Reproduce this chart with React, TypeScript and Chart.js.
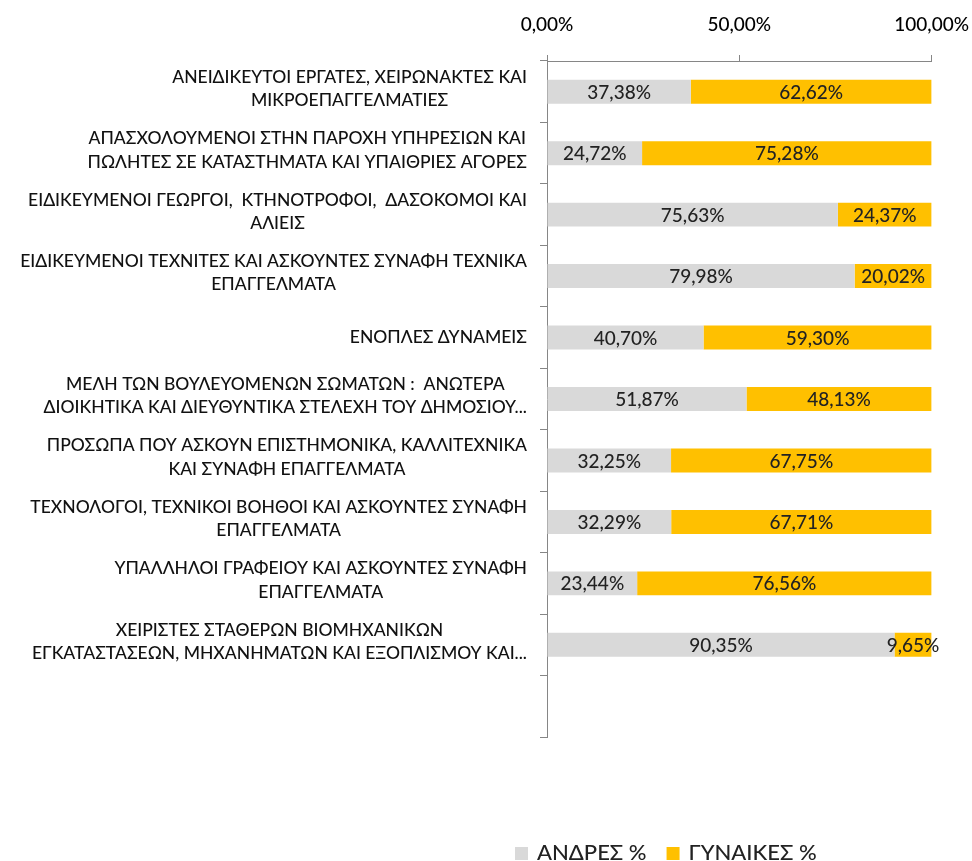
import React, { useEffect, useRef } from 'react';
import { Chart, registerables } from 'chart.js';

Chart.register(...registerables);

const FONT = "Lato, 'Noto Sans', sans-serif";
const WEIGHT = '500';

const categories: string[][] = [
  ['ΑΝΕΙΔΙΚΕΥΤΟΙ ΕΡΓΑΤΕΣ, ΧΕΙΡΩΝΑΚΤΕΣ ΚΑΙ', 'ΜΙΚΡΟΕΠΑΓΓΕΛΜΑΤΙΕΣ'],
  ['ΑΠΑΣΧΟΛΟΥΜΕΝΟΙ ΣΤΗΝ ΠΑΡΟΧΗ ΥΠΗΡΕΣΙΩΝ ΚΑΙ', 'ΠΩΛΗΤΕΣ ΣΕ ΚΑΤΑΣΤΗΜΑΤΑ ΚΑΙ ΥΠΑΙΘΡΙΕΣ ΑΓΟΡΕΣ'],
  ['ΕΙΔΙΚΕΥΜΕΝΟΙ ΓΕΩΡΓΟΙ,  ΚΤΗΝΟΤΡΟΦΟΙ,  ΔΑΣΟΚΟΜΟΙ ΚΑΙ', 'ΑΛΙΕΙΣ'],
  ['ΕΙΔΙΚΕΥΜΕΝΟΙ ΤΕΧΝΙΤΕΣ ΚΑΙ ΑΣΚΟΥΝΤΕΣ ΣΥΝΑΦΗ ΤΕΧΝΙΚΑ', 'ΕΠΑΓΓΕΛΜΑΤΑ'],
  ['ΕΝΟΠΛΕΣ ΔΥΝΑΜΕΙΣ'],
  ['ΜΕΛΗ ΤΩΝ ΒΟΥΛΕΥΟΜΕΝΩΝ ΣΩΜΑΤΩΝ :  ΑΝΩΤΕΡΑ', 'ΔΙΟΙΚΗΤΙΚΑ ΚΑΙ ΔΙΕΥΘΥΝΤΙΚΑ ΣΤΕΛΕΧΗ ΤΟΥ ΔΗΜΟΣΙΟΥ...'],
  ['ΠΡΟΣΩΠΑ ΠΟΥ ΑΣΚΟΥΝ ΕΠΙΣΤΗΜΟΝΙΚΑ, ΚΑΛΛΙΤΕΧΝΙΚΑ', 'ΚΑΙ ΣΥΝΑΦΗ ΕΠΑΓΓΕΛΜΑΤΑ'],
  ['ΤΕΧΝΟΛΟΓΟΙ, ΤΕΧΝΙΚΟΙ ΒΟΗΘΟΙ ΚΑΙ ΑΣΚΟΥΝΤΕΣ ΣΥΝΑΦΗ', 'ΕΠΑΓΓΕΛΜΑΤΑ'],
  ['ΥΠΑΛΛΗΛΟΙ ΓΡΑΦΕΙΟΥ ΚΑΙ ΑΣΚΟΥΝΤΕΣ ΣΥΝΑΦΗ', 'ΕΠΑΓΓΕΛΜΑΤΑ'],
  ['ΧΕΙΡΙΣΤΕΣ ΣΤΑΘΕΡΩΝ ΒΙΟΜΗΧΑΝΙΚΩΝ', 'ΕΓΚΑΤΑΣΤΑΣΕΩΝ, ΜΗΧΑΝΗΜΑΤΩΝ ΚΑΙ ΕΞΟΠΛΙΣΜΟΥ ΚΑΙ...'],
  [],
];

const menValues: (number | null)[] = [37.38, 24.72, 75.63, 79.98, 40.7, 51.87, 32.25, 32.29, 23.44, 90.35, null];
const womenValues: (number | null)[] = [62.62, 75.28, 24.37, 20.02, 59.3, 48.13, 67.75, 67.71, 76.56, 9.65, null];
const seriesNames = ['ΑΝΔΡΕΣ %', 'ΓΥΝΑΙΚΕΣ %'];
const seriesColors = ['#D9D9D9', '#FFC000'];
const xMin = 0;
const xMax = 100;
const xStep = 50;

const AXIS_COLOR = '#868686';
const X_AXIS_HEIGHT = 61;
const Y_AXIS_WIDTH = 547;
const Y_TICK_LEN = 7;
const Y_LABEL_PAD = 13;
const CAT_FONT_SIZE = 17.5;
const CAT_LINE_H = 23.5;

const fmt = (v: number) => v.toFixed(2).replace('.', ',') + '%';

const yLabelPlugin = {
  id: 'yLabels',
  afterDraw(chart: any) {
    const y = chart.scales.y;
    const ctx = chart.ctx;
    ctx.save();
    ctx.font = `${WEIGHT} ${CAT_FONT_SIZE}px ${FONT}`;
    ctx.fillStyle = '#111';
    ctx.textAlign = 'center';
    ctx.textBaseline = 'middle';
    const rightEdge = y.right - Y_TICK_LEN - Y_LABEL_PAD;
    categories.forEach((lines, i) => {
      if (!lines.length) return;
      const cy = y.getPixelForValue(i);
      const w = Math.max(...lines.map((l) => ctx.measureText(l).width));
      const cx = rightEdge - w / 2;
      const n = lines.length;
      const shift = n > 1 ? -3 : 0;
      lines.forEach((l, j) => {
        ctx.fillText(l, cx, cy + (j - (n - 1) / 2) * CAT_LINE_H + shift);
      });
    });
    ctx.restore();
  },
};

const dataLabelPlugin = {
  id: 'dataLabels',
  afterDatasetsDraw(chart: any) {
    const ctx = chart.ctx;
    ctx.save();
    ctx.font = `${WEIGHT} 19px ${FONT}`;
    ctx.fillStyle = '#222';
    ctx.textAlign = 'center';
    ctx.textBaseline = 'middle';
    chart.data.datasets.forEach((ds: any, di: number) => {
      const meta = chart.getDatasetMeta(di);
      meta.data.forEach((el: any, i: number) => {
        const v = ds.data[i];
        if (v === null || v === undefined) return;
        const p = el.getCenterPoint();
        ctx.fillText(fmt(v), p.x, p.y + 1);
      });
    });
    ctx.restore();
  },
};

const legendPlugin = {
  id: 'customLegend',
  afterDraw(chart: any) {
    const ctx = chart.ctx;
    const area = chart.chartArea;
    ctx.save();
    ctx.font = `${WEIGHT} 22px ${FONT}`;
    ctx.textBaseline = 'alphabetic';
    ctx.textAlign = 'left';
    const box = 13;
    const gap = 9;
    const itemGap = 20;
    let x = area.left - 32;
    const baseline = chart.height - 1;
    seriesNames.forEach((name, i) => {
      ctx.fillStyle = seriesColors[i];
      ctx.fillRect(x, baseline - box, box, box);
      x += box + gap;
      ctx.fillStyle = '#222';
      ctx.fillText(name, x, baseline);
      x += ctx.measureText(name).width + itemGap;
    });
    ctx.restore();
  },
};

export default function App() {
  const ref = useRef<HTMLCanvasElement | null>(null);
  useEffect(() => {
    if (!ref.current) return;
    const chart = new Chart(ref.current, {
      type: 'bar',
      data: {
        labels: categories.map((c) => c.join(' ')),
        datasets: [
          {
            label: seriesNames[0],
            data: menValues,
            backgroundColor: seriesColors[0],
            categoryPercentage: 1,
            barPercentage: 0.39,
          },
          {
            label: seriesNames[1],
            data: womenValues,
            backgroundColor: seriesColors[1],
            categoryPercentage: 1,
            barPercentage: 0.39,
          },
        ],
      },
      options: {
        indexAxis: 'y',
        animation: false,
        responsive: true,
        maintainAspectRatio: false,
        layout: { padding: { top: 0, right: 40, bottom: 124, left: 0 } },
        plugins: {
          legend: { display: false },
          tooltip: { enabled: false },
        },
        scales: {
          x: {
            position: 'top',
            stacked: true,
            min: xMin,
            max: xMax,
            ticks: {
              stepSize: xStep,
              callback: (v: any) => fmt(Number(v)),
              font: { family: FONT, size: 19, weight: WEIGHT, lineHeight: 2.842 },
              color: '#000',
              padding: 3,
              maxRotation: 0,
            },
            grid: {
              drawOnChartArea: false,
              drawTicks: true,
              tickLength: 6,
              color: AXIS_COLOR,
            },
            border: { display: true, color: AXIS_COLOR },
            afterFit: (s: any) => {
              s.height = X_AXIS_HEIGHT;
            },
          },
          y: {
            stacked: true,
            ticks: { display: false },
            grid: {
              offset: true,
              drawOnChartArea: false,
              drawTicks: true,
              tickLength: Y_TICK_LEN,
              color: AXIS_COLOR,
            },
            border: { display: true, color: AXIS_COLOR },
            afterFit: (s: any) => {
              s.width = Y_AXIS_WIDTH;
            },
          },
        },
      } as any,
      plugins: [yLabelPlugin, dataLabelPlugin, legendPlugin],
    });
    return () => chart.destroy();
  }, []);
  return (
    <div style={{ position: 'absolute', left: 0, top: 0, width: 972, height: 861 }}>
      <canvas ref={ref} />
    </div>
  );
}
